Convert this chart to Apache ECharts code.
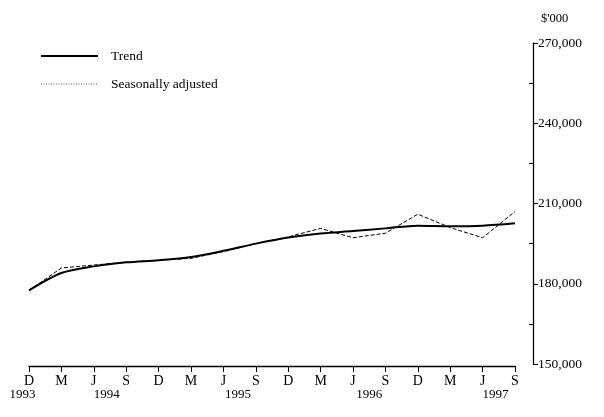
<!DOCTYPE html>
<html>
<head>
<meta charset="utf-8">
<script src="https://cdn.jsdelivr.net/npm/echarts@6/dist/echarts.min.js"></script>
<style>
  html, body { margin: 0; padding: 0; background: #fff; }
  #chart { width: 604px; height: 417px; }
</style>
</head>
<body>
<div id="chart"></div>
<script>
// quarters, Dec 1993 .. Sep 1997
const months = ["D", "M", "J", "S", "D", "M", "J", "S", "D", "M", "J", "S", "D", "M", "J", "S"];
const years = ["1993", "1994", "1995", "1996", "1997"];
// where each year label sits, in quarter units from the first tick
const yearAt = [-0.2, 2.4, 6.45, 10.5, 14.4];

const trend = [177500, 184000, 186500, 188000, 188800, 190000, 192300, 195000,
               197300, 198800, 199700, 200700, 201700, 201500, 201700, 202600];
const seasAdj = [177500, 185900, 187000, 188000, 188800, 189500, 192000, 195000,
                 197500, 200700, 197200, 198900, 206000, 201000, 197200, 207000];

const yMinor = [165000, 195000, 225000, 255000];

const font = "'Liberation Serif', 'DejaVu Serif', serif";
const ink = "#000";

const chart = echarts.init(document.getElementById("chart"));
chart.setOption({
  animation: false,
  backgroundColor: "#fff",
  textStyle: { fontFamily: font, color: ink },
  legend: {
    orient: "vertical",
    left: 35,
    top: 44,
    itemWidth: 57,
    itemHeight: 14,
    itemGap: 14,
    itemStyle: { opacity: 0 },
    textStyle: { fontFamily: font, fontSize: 13.5, color: ink, padding: [0, 0, 0, 8] },
    data: [
      { name: "Trend" },
      { name: "Seasonally adjusted", lineStyle: { type: [1, 1.5], width: 1, color: "#555" } }
    ]
  },
  grid: [
    { left: 29, right: 89, top: 43, bottom: 53 },
    { left: 12.8, right: 72.8, top: 43, bottom: 51 }
  ],
  xAxis: [
    {
      type: "category",
      data: months,
      boundaryGap: false,
      gridIndex: 0,
      offset: 2,
      axisLine: { lineStyle: { color: ink, width: 1.3 } },
      axisTick: { length: 6, lineStyle: { color: ink } },
      axisLabel: { fontFamily: font, fontSize: 14, color: ink, margin: 8 },
      splitLine: { show: false }
    },
    {
      type: "value",
      gridIndex: 1,
      min: -0.5,
      max: 15.5,
      axisLine: { show: false },
      axisTick: { show: false },
      splitLine: { show: false },
      axisLabel: {
        customValues: yearAt,
        formatter: (v) => years[yearAt.indexOf(v)],
        fontFamily: font, fontSize: 13, color: ink, margin: 22
      }
    }
  ],
  yAxis: [
    {
      type: "value",
      gridIndex: 0,
      position: "right",
      offset: 18,
      min: 150000,
      max: 270000,
      interval: 30000,
      name: "$'000",
      nameLocation: "end",
      nameGap: 18,
      nameTextStyle: { fontFamily: font, fontSize: 12.5, color: ink, align: "left", padding: [0, 0, 0, 8] },
      axisLine: { show: true, lineStyle: { color: ink, width: 1.3 } },
      axisTick: { show: true, length: 5, lineStyle: { color: ink } },
      axisLabel: {
        fontFamily: font, fontSize: 13.5, color: ink, margin: 5,
        formatter: (v) => v.toLocaleString("en-US")
      },
      splitLine: { show: false }
    },
    {
      type: "value",
      gridIndex: 0,
      position: "right",
      offset: 18,
      min: 150000,
      max: 270000,
      interval: 15000,
      axisLine: { show: false },
      axisTick: { show: true, inside: true, length: 4, customValues: yMinor, lineStyle: { color: ink } },
      axisLabel: { show: false },
      splitLine: { show: false }
    },
    {
      type: "value",
      gridIndex: 1,
      min: 0,
      max: 1,
      show: false
    }
  ],
  series: [
    {
      name: "Trend",
      type: "line",
      data: trend,
      xAxisIndex: 0,
      yAxisIndex: 0,
      symbol: "none",
      smooth: 0.3,
      lineStyle: { color: ink, width: 2 },
      itemStyle: { color: ink }
    },
    {
      name: "Seasonally adjusted",
      type: "line",
      data: seasAdj,
      xAxisIndex: 0,
      yAxisIndex: 0,
      symbol: "none",
      lineStyle: { color: ink, width: 1, type: [4, 2] },
      itemStyle: { color: ink }
    }
  ]
});
</script>
</body>
</html>
